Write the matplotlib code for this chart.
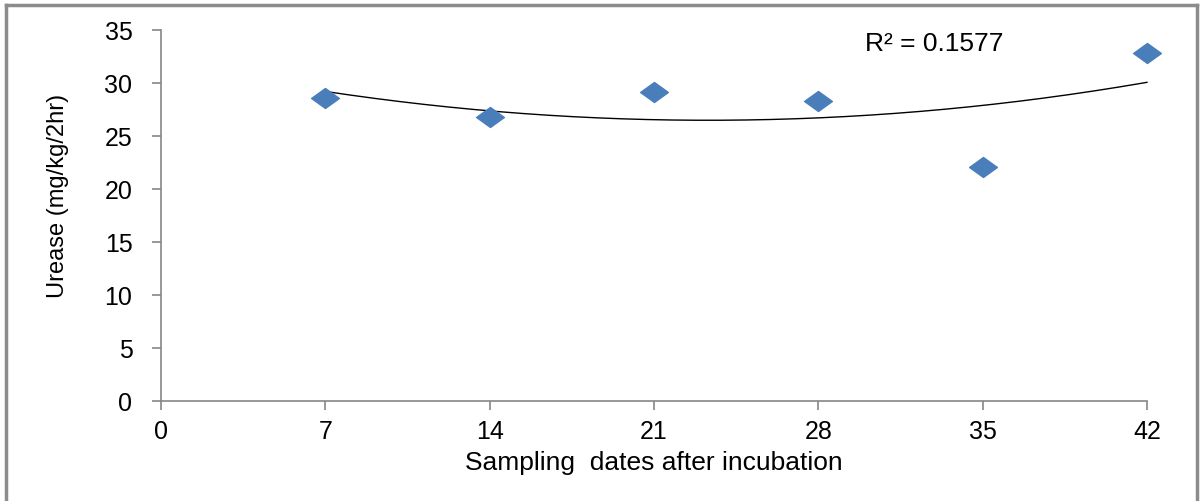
import numpy as np
import matplotlib.pyplot as plt
from matplotlib.path import Path
from matplotlib.lines import Line2D

# Data
dias = [7, 14, 21, 28, 35, 42]
urease = [28.6, 26.8, 29.2, 28.3, 22.1, 32.8]
x_ticks = [0, 7, 14, 21, 28, 35, 42]
y_ticks = [0, 5, 10, 15, 20, 25, 30, 35]

plt.rcParams['font.family'] = ['Liberation Sans', 'DejaVu Sans']

fig = plt.figure(figsize=(12.01, 5.01), dpi=100)
ax = fig.add_axes([0.134, 0.1996, 0.821, 0.7404])

# Losango achatado (estilo Excel esticado)
losango = Path([(-1, 0), (0, 0.72), (1, 0), (0, -0.72), (-1, 0)],
               [Path.MOVETO, Path.LINETO, Path.LINETO, Path.LINETO, Path.CLOSEPOLY])
ax.plot(dias, urease, linestyle='none', marker=losango, markersize=20,
        color='#4A7EBB', markeredgecolor='#4A7EBB', zorder=3, clip_on=False)

# Linha de tendência polinomial de ordem 2
coef = np.polyfit(dias, urease, 2)
xs = np.linspace(min(dias), max(dias), 200)
ax.plot(xs, np.polyval(coef, xs), color='black', linewidth=1.0, zorder=2, clip_on=False)

ax.text(30.0, 33.7, 'R² = 0.1577', fontsize=19, va='center', ha='left')

ax.set_xlim(0, 42)
ax.set_ylim(0, 35)
ax.set_xticks(x_ticks)
ax.set_yticks(y_ticks)
ax.tick_params(axis='both', labelsize=18, color='#868686', length=6.5, width=1.2, direction='out')
ax.tick_params(axis='x', pad=7)
ax.tick_params(axis='y', pad=14)

for lado in ['top', 'right']:
    ax.spines[lado].set_visible(False)
for lado in ['left', 'bottom']:
    ax.spines[lado].set_color('#868686')
    ax.spines[lado].set_linewidth(1.2)

ax.set_xlabel('Sampling  dates after incubation', fontsize=19)
ax.xaxis.set_label_coords(0.5, -0.135)
ax.set_ylabel('Urease (mg/kg/2hr)', fontsize=17)
ax.yaxis.set_label_coords(-0.093, 0.553)

# Moldura cinza em volta da figura
cor_moldura = '#8C8C8C'
fig.add_artist(Line2D([0.005, 0.005], [0.0, 0.99], transform=fig.transFigure, color=cor_moldura, lw=2.5))
fig.add_artist(Line2D([0.005, 0.9967], [0.99, 0.99], transform=fig.transFigure, color=cor_moldura, lw=2.5))
fig.add_artist(Line2D([0.9967, 0.9967], [0.0, 0.99], transform=fig.transFigure, color=cor_moldura, lw=2.5))

fig.savefig('out.png', dpi=100)
